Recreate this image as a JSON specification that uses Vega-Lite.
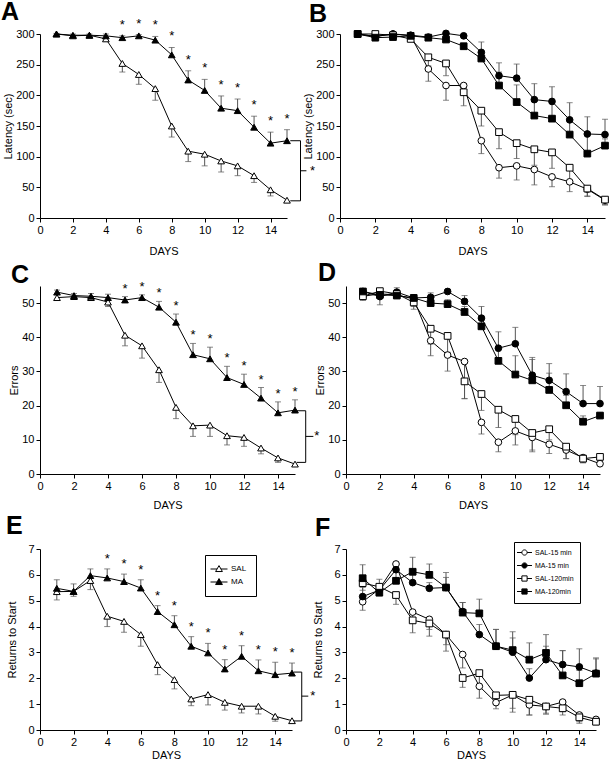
{
  "$schema": "https://vega.github.io/schema/vega-lite/v6.json",
  "padding": {"left": 0, "top": 0, "right": 0, "bottom": 0},
  "datasets": {
    "letters": [{"p":"A"},{"p":"B"},{"p":"C"},{"p":"D"},{"p":"E"},{"p":"F"}],
    "lat": [
      {"day":1,"group":"SAL","mean":300,"bar":299,"star":0},{"day":2,"group":"SAL","mean":297,"bar":295,"star":0},{"day":3,"group":"SAL","mean":298,"bar":296,"star":0},{"day":4,"group":"SAL","mean":292,"bar":290,"star":0},{"day":5,"group":"SAL","mean":252,"bar":238,"star":0},{"day":6,"group":"SAL","mean":234,"bar":218,"star":0},{"day":7,"group":"SAL","mean":211,"bar":192,"star":0},{"day":8,"group":"SAL","mean":150,"bar":132,"star":0},{"day":9,"group":"SAL","mean":109,"bar":92,"star":0},{"day":10,"group":"SAL","mean":104,"bar":85,"star":0},{"day":11,"group":"SAL","mean":93,"bar":75,"star":0},{"day":12,"group":"SAL","mean":85,"bar":69,"star":0},{"day":13,"group":"SAL","mean":69,"bar":58,"star":0},{"day":14,"group":"SAL","mean":46,"bar":36,"star":0},{"day":15,"group":"SAL","mean":29,"bar":26,"star":0},
      {"day":1,"group":"MA","mean":300,"bar":301,"star":0},{"day":2,"group":"MA","mean":298,"bar":300,"star":0},{"day":3,"group":"MA","mean":298,"bar":300,"star":0},{"day":4,"group":"MA","mean":297,"bar":300,"star":0},{"day":5,"group":"MA","mean":294,"bar":297,"star":1},{"day":6,"group":"MA","mean":297,"bar":299,"star":1},{"day":7,"group":"MA","mean":290,"bar":296,"star":1},{"day":8,"group":"MA","mean":266,"bar":278,"star":1},{"day":9,"group":"MA","mean":225,"bar":240,"star":1},{"day":10,"group":"MA","mean":208,"bar":226,"star":1},{"day":11,"group":"MA","mean":179,"bar":199,"star":1},{"day":12,"group":"MA","mean":175,"bar":194,"star":1},{"day":13,"group":"MA","mean":148,"bar":166,"star":1},{"day":14,"group":"MA","mean":122,"bar":140,"star":1},{"day":15,"group":"MA","mean":126,"bar":144,"star":1}
    ],
    "lat4": [
      {"day":1,"group":"SAL-15 min","mean":300,"bar":298},{"day":2,"group":"SAL-15 min","mean":296,"bar":290},{"day":3,"group":"SAL-15 min","mean":300,"bar":298},{"day":4,"group":"SAL-15 min","mean":297,"bar":295},{"day":5,"group":"SAL-15 min","mean":243,"bar":223},{"day":6,"group":"SAL-15 min","mean":216,"bar":192},{"day":7,"group":"SAL-15 min","mean":216,"bar":205},{"day":8,"group":"SAL-15 min","mean":126,"bar":105},{"day":9,"group":"SAL-15 min","mean":82,"bar":65},{"day":10,"group":"SAL-15 min","mean":85,"bar":62},{"day":11,"group":"SAL-15 min","mean":79,"bar":54},{"day":12,"group":"SAL-15 min","mean":67,"bar":51},{"day":13,"group":"SAL-15 min","mean":59,"bar":43},{"day":14,"group":"SAL-15 min","mean":47,"bar":35},{"day":15,"group":"SAL-15 min","mean":29,"bar":21},
      {"day":1,"group":"MA-15 min","mean":300,"bar":301},{"day":2,"group":"MA-15 min","mean":296,"bar":298},{"day":3,"group":"MA-15 min","mean":300,"bar":302},{"day":4,"group":"MA-15 min","mean":298,"bar":300},{"day":5,"group":"MA-15 min","mean":295,"bar":297},{"day":6,"group":"MA-15 min","mean":301,"bar":303},{"day":7,"group":"MA-15 min","mean":297,"bar":299},{"day":8,"group":"MA-15 min","mean":270,"bar":287},{"day":9,"group":"MA-15 min","mean":232,"bar":253},{"day":10,"group":"MA-15 min","mean":228,"bar":251},{"day":11,"group":"MA-15 min","mean":193,"bar":219},{"day":12,"group":"MA-15 min","mean":190,"bar":214},{"day":13,"group":"MA-15 min","mean":160,"bar":188},{"day":14,"group":"MA-15 min","mean":137,"bar":165},{"day":15,"group":"MA-15 min","mean":136,"bar":161},
      {"day":1,"group":"SAL-120min","mean":300,"bar":298},{"day":2,"group":"SAL-120min","mean":300,"bar":292},{"day":3,"group":"SAL-120min","mean":298,"bar":296},{"day":4,"group":"SAL-120min","mean":292,"bar":288},{"day":5,"group":"SAL-120min","mean":262,"bar":248},{"day":6,"group":"SAL-120min","mean":252,"bar":232},{"day":7,"group":"SAL-120min","mean":205,"bar":183},{"day":8,"group":"SAL-120min","mean":175,"bar":150},{"day":9,"group":"SAL-120min","mean":140,"bar":113},{"day":10,"group":"SAL-120min","mean":122,"bar":97},{"day":11,"group":"SAL-120min","mean":112,"bar":86},{"day":12,"group":"SAL-120min","mean":107,"bar":81},{"day":13,"group":"SAL-120min","mean":82,"bar":59},{"day":14,"group":"SAL-120min","mean":48,"bar":36},{"day":15,"group":"SAL-120min","mean":30,"bar":22},
      {"day":1,"group":"MA-120min","mean":300,"bar":302},{"day":2,"group":"MA-120min","mean":294,"bar":297},{"day":3,"group":"MA-120min","mean":295,"bar":298},{"day":4,"group":"MA-120min","mean":297,"bar":300},{"day":5,"group":"MA-120min","mean":294,"bar":297},{"day":6,"group":"MA-120min","mean":291,"bar":295},{"day":7,"group":"MA-120min","mean":280,"bar":285},{"day":8,"group":"MA-120min","mean":260,"bar":272},{"day":9,"group":"MA-120min","mean":216,"bar":238},{"day":10,"group":"MA-120min","mean":189,"bar":217},{"day":11,"group":"MA-120min","mean":167,"bar":190},{"day":12,"group":"MA-120min","mean":162,"bar":191},{"day":13,"group":"MA-120min","mean":136,"bar":158},{"day":14,"group":"MA-120min","mean":105,"bar":136},{"day":15,"group":"MA-120min","mean":118,"bar":129}
    ],
    "err": [
      {"day":1,"group":"SAL","mean":51.6,"bar":51.0,"star":0},{"day":2,"group":"SAL","mean":51.9,"bar":51.2,"star":0},{"day":3,"group":"SAL","mean":51.6,"bar":50.8,"star":0},{"day":4,"group":"SAL","mean":50.3,"bar":49.0,"star":0},{"day":5,"group":"SAL","mean":40.6,"bar":37.5,"star":0},{"day":6,"group":"SAL","mean":37.5,"bar":33.9,"star":0},{"day":7,"group":"SAL","mean":30.5,"bar":26.8,"star":0},{"day":8,"group":"SAL","mean":19.5,"bar":16.2,"star":0},{"day":9,"group":"SAL","mean":14.1,"bar":11.0,"star":0},{"day":10,"group":"SAL","mean":14.3,"bar":11.0,"star":0},{"day":11,"group":"SAL","mean":11.2,"bar":8.5,"star":0},{"day":12,"group":"SAL","mean":10.7,"bar":8.1,"star":0},{"day":13,"group":"SAL","mean":7.6,"bar":5.9,"star":0},{"day":14,"group":"SAL","mean":4.7,"bar":3.4,"star":0},{"day":15,"group":"SAL","mean":2.9,"bar":2.5,"star":0},
      {"day":1,"group":"MA","mean":53.2,"bar":53.8,"star":0},{"day":2,"group":"MA","mean":52.2,"bar":52.8,"star":0},{"day":3,"group":"MA","mean":52.0,"bar":52.8,"star":0},{"day":4,"group":"MA","mean":51.6,"bar":52.6,"star":0},{"day":5,"group":"MA","mean":50.9,"bar":51.9,"star":1},{"day":6,"group":"MA","mean":51.6,"bar":52.4,"star":1},{"day":7,"group":"MA","mean":48.8,"bar":50.5,"star":1},{"day":8,"group":"MA","mean":44.4,"bar":46.8,"star":1},{"day":9,"group":"MA","mean":34.9,"bar":38.2,"star":1},{"day":10,"group":"MA","mean":33.7,"bar":37.1,"star":1},{"day":11,"group":"MA","mean":28.2,"bar":31.5,"star":1},{"day":12,"group":"MA","mean":26.2,"bar":29.2,"star":1},{"day":13,"group":"MA","mean":22.2,"bar":25.3,"star":1},{"day":14,"group":"MA","mean":17.9,"bar":21.1,"star":1},{"day":15,"group":"MA","mean":18.7,"bar":21.7,"star":1}
    ],
    "err4": [
      {"day":1,"group":"SAL-15 min","mean":52.0,"bar":51.0},{"day":2,"group":"SAL-15 min","mean":52.7,"bar":49.5},{"day":3,"group":"SAL-15 min","mean":52.4,"bar":51.5},{"day":4,"group":"SAL-15 min","mean":51.2,"bar":49.0},{"day":5,"group":"SAL-15 min","mean":39.0,"bar":34.6},{"day":6,"group":"SAL-15 min","mean":34.8,"bar":30.1},{"day":7,"group":"SAL-15 min","mean":32.9,"bar":22.0},{"day":8,"group":"SAL-15 min","mean":15.1,"bar":11.7},{"day":9,"group":"SAL-15 min","mean":9.3,"bar":6.5},{"day":10,"group":"SAL-15 min","mean":12.6,"bar":8.5},{"day":11,"group":"SAL-15 min","mean":10.7,"bar":6.5},{"day":12,"group":"SAL-15 min","mean":8.7,"bar":6.0},{"day":13,"group":"SAL-15 min","mean":7.0,"bar":4.5},{"day":14,"group":"SAL-15 min","mean":4.8,"bar":3.3},{"day":15,"group":"SAL-15 min","mean":3.0,"bar":2.5},
      {"day":1,"group":"MA-15 min","mean":53.4,"bar":54.0},{"day":2,"group":"MA-15 min","mean":51.9,"bar":52.5},{"day":3,"group":"MA-15 min","mean":53.2,"bar":54.5},{"day":4,"group":"MA-15 min","mean":51.5,"bar":52.5},{"day":5,"group":"MA-15 min","mean":51.7,"bar":53.0},{"day":6,"group":"MA-15 min","mean":53.4,"bar":54.0},{"day":7,"group":"MA-15 min","mean":50.5,"bar":52.2},{"day":8,"group":"MA-15 min","mean":45.6,"bar":49.0},{"day":9,"group":"MA-15 min","mean":36.8,"bar":41.6},{"day":10,"group":"MA-15 min","mean":38.1,"bar":42.9},{"day":11,"group":"MA-15 min","mean":28.9,"bar":34.1},{"day":12,"group":"MA-15 min","mean":27.4,"bar":32.3},{"day":13,"group":"MA-15 min","mean":24.1,"bar":29.3},{"day":14,"group":"MA-15 min","mean":20.6,"bar":25.9},{"day":15,"group":"MA-15 min","mean":20.6,"bar":25.6},
      {"day":1,"group":"SAL-120min","mean":52.0,"bar":50.8},{"day":2,"group":"SAL-120min","mean":53.5,"bar":52.0},{"day":3,"group":"SAL-120min","mean":52.7,"bar":51.5},{"day":4,"group":"SAL-120min","mean":50.2,"bar":48.2},{"day":5,"group":"SAL-120min","mean":42.5,"bar":38.0},{"day":6,"group":"SAL-120min","mean":40.4,"bar":35.6},{"day":7,"group":"SAL-120min","mean":27.1,"bar":22.1},{"day":8,"group":"SAL-120min","mean":23.4,"bar":18.6},{"day":9,"group":"SAL-120min","mean":18.8,"bar":13.6},{"day":10,"group":"SAL-120min","mean":16.1,"bar":11.5},{"day":11,"group":"SAL-120min","mean":12.0,"bar":7.0},{"day":12,"group":"SAL-120min","mean":13.1,"bar":10.0},{"day":13,"group":"SAL-120min","mean":8.0,"bar":4.5},{"day":14,"group":"SAL-120min","mean":4.5,"bar":3.3},{"day":15,"group":"SAL-120min","mean":5.0,"bar":4.0},
      {"day":1,"group":"MA-120min","mean":53.4,"bar":54.0},{"day":2,"group":"MA-120min","mean":52.4,"bar":53.0},{"day":3,"group":"MA-120min","mean":52.2,"bar":53.0},{"day":4,"group":"MA-120min","mean":51.5,"bar":52.3},{"day":5,"group":"MA-120min","mean":50.0,"bar":51.5},{"day":6,"group":"MA-120min","mean":49.7,"bar":51.0},{"day":7,"group":"MA-120min","mean":47.4,"bar":49.0},{"day":8,"group":"MA-120min","mean":43.2,"bar":45.0},{"day":9,"group":"MA-120min","mean":33.1,"bar":37.0},{"day":10,"group":"MA-120min","mean":29.1,"bar":34.6},{"day":11,"group":"MA-120min","mean":27.4,"bar":33.5},{"day":12,"group":"MA-120min","mean":24.6,"bar":29.5},{"day":13,"group":"MA-120min","mean":20.1,"bar":23.0},{"day":14,"group":"MA-120min","mean":15.3,"bar":17.0},{"day":15,"group":"MA-120min","mean":17.1,"bar":18.0}
    ],
    "ret": [
      {"day":1,"group":"SAL","mean":5.35,"bar":5.03,"star":0},{"day":2,"group":"SAL","mean":5.36,"bar":5.17,"star":0},{"day":3,"group":"SAL","mean":5.78,"bar":5.43,"star":0},{"day":4,"group":"SAL","mean":4.40,"bar":4.0,"star":0},{"day":5,"group":"SAL","mean":4.20,"bar":3.78,"star":0},{"day":6,"group":"SAL","mean":3.69,"bar":3.24,"star":0},{"day":7,"group":"SAL","mean":2.53,"bar":2.14,"star":0},{"day":8,"group":"SAL","mean":1.95,"bar":1.59,"star":0},{"day":9,"group":"SAL","mean":1.20,"bar":0.94,"star":0},{"day":10,"group":"SAL","mean":1.37,"bar":0.97,"star":0},{"day":11,"group":"SAL","mean":1.07,"bar":0.77,"star":0},{"day":12,"group":"SAL","mean":0.92,"bar":0.66,"star":0},{"day":13,"group":"SAL","mean":0.92,"bar":0.62,"star":0},{"day":14,"group":"SAL","mean":0.53,"bar":0.34,"star":0},{"day":15,"group":"SAL","mean":0.36,"bar":0.28,"star":0},
      {"day":1,"group":"MA","mean":5.48,"bar":5.81,"star":0},{"day":2,"group":"MA","mean":5.36,"bar":5.65,"star":0},{"day":3,"group":"MA","mean":5.97,"bar":6.23,"star":0},{"day":4,"group":"MA","mean":5.88,"bar":6.23,"star":1},{"day":5,"group":"MA","mean":5.74,"bar":6.03,"star":1},{"day":6,"group":"MA","mean":5.49,"bar":5.81,"star":1},{"day":7,"group":"MA","mean":4.58,"bar":4.81,"star":1},{"day":8,"group":"MA","mean":4.07,"bar":4.42,"star":1},{"day":9,"group":"MA","mean":3.24,"bar":3.61,"star":1},{"day":10,"group":"MA","mean":2.98,"bar":3.35,"star":1},{"day":11,"group":"MA","mean":2.36,"bar":2.72,"star":1},{"day":12,"group":"MA","mean":2.85,"bar":3.26,"star":1},{"day":13,"group":"MA","mean":2.29,"bar":2.71,"star":1},{"day":14,"group":"MA","mean":2.14,"bar":2.62,"star":1},{"day":15,"group":"MA","mean":2.20,"bar":2.59,"star":1}
    ],
    "ret4": [
      {"day":1,"group":"SAL-15 min","mean":4.96,"bar":4.63},{"day":2,"group":"SAL-15 min","mean":5.45,"bar":5.2},{"day":3,"group":"SAL-15 min","mean":6.42,"bar":6.3},{"day":4,"group":"SAL-15 min","mean":4.56,"bar":4.15},{"day":5,"group":"SAL-15 min","mean":4.28,"bar":3.89},{"day":6,"group":"SAL-15 min","mean":3.69,"bar":3.3},{"day":7,"group":"SAL-15 min","mean":2.92,"bar":2.40},{"day":8,"group":"SAL-15 min","mean":1.69,"bar":1.23},{"day":9,"group":"SAL-15 min","mean":1.06,"bar":0.82},{"day":10,"group":"SAL-15 min","mean":1.36,"bar":0.84},{"day":11,"group":"SAL-15 min","mean":0.97,"bar":0.58},{"day":12,"group":"SAL-15 min","mean":0.91,"bar":0.65},{"day":13,"group":"SAL-15 min","mean":1.08,"bar":0.71},{"day":14,"group":"SAL-15 min","mean":0.58,"bar":0.32},{"day":15,"group":"SAL-15 min","mean":0.41,"bar":0.3},
      {"day":1,"group":"MA-15 min","mean":5.16,"bar":5.51},{"day":2,"group":"MA-15 min","mean":5.41,"bar":5.6},{"day":3,"group":"MA-15 min","mean":6.2,"bar":6.48},{"day":4,"group":"MA-15 min","mean":5.70,"bar":6.0},{"day":5,"group":"MA-15 min","mean":5.48,"bar":5.7},{"day":6,"group":"MA-15 min","mean":5.51,"bar":5.9},{"day":7,"group":"MA-15 min","mean":4.58,"bar":4.93},{"day":8,"group":"MA-15 min","mean":3.69,"bar":4.08},{"day":9,"group":"MA-15 min","mean":3.24,"bar":3.89},{"day":10,"group":"MA-15 min","mean":3.01,"bar":3.56},{"day":11,"group":"MA-15 min","mean":2.01,"bar":2.37},{"day":12,"group":"MA-15 min","mean":2.72,"bar":3.24},{"day":13,"group":"MA-15 min","mean":2.53,"bar":3.07},{"day":14,"group":"MA-15 min","mean":2.44,"bar":3.14},{"day":15,"group":"MA-15 min","mean":2.20,"bar":2.79},
      {"day":1,"group":"SAL-120min","mean":5.68,"bar":5.4},{"day":2,"group":"SAL-120min","mean":5.54,"bar":5.3},{"day":3,"group":"SAL-120min","mean":5.22,"bar":4.86},{"day":4,"group":"SAL-120min","mean":4.24,"bar":3.76},{"day":5,"group":"SAL-120min","mean":4.12,"bar":3.63},{"day":6,"group":"SAL-120min","mean":3.69,"bar":3.05},{"day":7,"group":"SAL-120min","mean":2.01,"bar":1.65},{"day":8,"group":"SAL-120min","mean":2.20,"bar":1.69},{"day":9,"group":"SAL-120min","mean":1.34,"bar":1.1},{"day":10,"group":"SAL-120min","mean":1.36,"bar":0.69},{"day":11,"group":"SAL-120min","mean":1.17,"bar":0.58},{"day":12,"group":"SAL-120min","mean":0.91,"bar":0.61},{"day":13,"group":"SAL-120min","mean":0.84,"bar":0.58},{"day":14,"group":"SAL-120min","mean":0.49,"bar":0.26},{"day":15,"group":"SAL-120min","mean":0.32,"bar":0.2},
      {"day":1,"group":"MA-120min","mean":5.87,"bar":6.39},{"day":2,"group":"MA-120min","mean":5.31,"bar":5.83},{"day":3,"group":"MA-120min","mean":5.77,"bar":6.22},{"day":4,"group":"MA-120min","mean":6.12,"bar":6.68},{"day":5,"group":"MA-120min","mean":6.0,"bar":6.42},{"day":6,"group":"MA-120min","mean":5.51,"bar":6.09},{"day":7,"group":"MA-120min","mean":4.54,"bar":4.93},{"day":8,"group":"MA-120min","mean":4.51,"bar":5.06},{"day":9,"group":"MA-120min","mean":3.24,"bar":3.89},{"day":10,"group":"MA-120min","mean":3.09,"bar":3.80},{"day":11,"group":"MA-120min","mean":2.72,"bar":3.37},{"day":12,"group":"MA-120min","mean":2.98,"bar":3.69},{"day":13,"group":"MA-120min","mean":2.11,"bar":3.07},{"day":14,"group":"MA-120min","mean":1.81,"bar":2.3},{"day":15,"group":"MA-120min","mean":2.18,"bar":2.75}
    ],
    "brA": [{"top":126,"bottom":28,"mid":77}],
    "brC": [{"top":18.5,"bottom":3.4,"mid":11}],
    "brE": [{"top":2.24,"bottom":0.35,"mid":1.31}]
  },
  "resolve": {"scale": {"fill": "independent", "shape": "independent", "stroke": "independent"}, "legend": {"fill": "independent", "shape": "independent", "stroke": "independent"}},
  "vconcat": [
    {
      "bounds": "flush",
      "spacing": 53,
      "resolve": {"scale": {"fill": "independent", "shape": "independent"}, "legend": {"fill": "independent", "shape": "independent"}},
      "hconcat": [
        {
          "width": 247, "height": 184,
          "layer": [
            {"data": {"name": "lat"}, "mark": {"type": "rule", "color": "#555"},
             "encoding": {
               "x": {"field": "day", "type": "quantitative", "scale": {"domain": [0, 15], "nice": false, "zero": false}, "axis": {"values": [0,2,4,6,8,10,12,14], "tickCount": 30, "format": "d", "title": "DAYS", "titlePadding": 10, "labelFlush": false, "labelOverlap": false}},
               "y": {"field": "mean", "type": "quantitative", "scale": {"domain": [0, 300], "nice": false}, "axis": {"values": [0,50,100,150,200,250,300], "tickCount": 30, "format": "d", "title": "Latency (sec)", "labelOverlap": false}},
               "y2": {"field": "bar"}}},
            {"data": {"name": "lat"}, "mark": {"type": "tick", "orient": "horizontal", "size": 6, "thickness": 1, "color": "#555"},
             "encoding": {"x": {"field": "day", "type": "quantitative"}, "y": {"field": "bar", "type": "quantitative"}}},
            {"data": {"name": "lat"}, "mark": {"type": "line", "color": "black", "strokeWidth": 1},
             "encoding": {"x": {"field": "day", "type": "quantitative"}, "y": {"field": "mean", "type": "quantitative"}, "detail": {"field": "group"}}},
            {"data": {"name": "lat"}, "mark": {"type": "point", "shape": "triangle-up", "filled": true, "stroke": "black", "strokeWidth": 1, "size": 45, "opacity": 1},
             "encoding": {"x": {"field": "day", "type": "quantitative"}, "y": {"field": "mean", "type": "quantitative"},
               "fill": {"field": "group", "type": "nominal", "scale": {"domain": ["SAL", "MA"], "range": ["white", "black"]}, "legend": null}}},
            {"data": {"name": "lat"}, "transform": [{"filter": "datum.star == 1"}], "mark": {"type": "text", "text": "*", "fontSize": 13, "baseline": "middle", "dy": -11, "color": "black"},
             "encoding": {"x": {"field": "day", "type": "quantitative"}, "y": {"field": "bar", "type": "quantitative"}}},
            {"data": {"name": "brA"}, "mark": {"type": "rule", "color": "black"}, "encoding": {"x": {"datum": 15.2}, "x2": {"datum": 15.82}, "y": {"field": "top", "type": "quantitative"}}},
            {"data": {"name": "brA"}, "mark": {"type": "rule", "color": "black"}, "encoding": {"x": {"datum": 15.2}, "x2": {"datum": 15.82}, "y": {"field": "bottom", "type": "quantitative"}}},
            {"data": {"name": "brA"}, "mark": {"type": "rule", "color": "black"}, "encoding": {"x": {"datum": 15.82}, "y": {"field": "top", "type": "quantitative"}, "y2": {"field": "bottom"}}},
            {"data": {"name": "brA"}, "mark": {"type": "rule", "color": "black"}, "encoding": {"x": {"datum": 15.82}, "x2": {"datum": 16.18}, "y": {"field": "mid", "type": "quantitative"}}},
            {"data": {"name": "brA"}, "mark": {"type": "text", "text": "*", "fontSize": 13, "baseline": "middle", "color": "black"}, "encoding": {"x": {"datum": 16.55}, "y": {"field": "mid", "type": "quantitative"}}},
            {"data": {"name": "letters"}, "transform": [{"filter": "datum.p == 'A'"}], "mark": {"type": "text", "fontSize": 25, "fontWeight": "bold", "align": "left", "baseline": "alphabetic", "color": "black"},
             "encoding": {"x": {"datum": -2.37}, "y": {"datum": 322.8}, "text": {"field": "p"}}}
          ]
        },
        {
          "width": 265, "height": 184,
          "layer": [
            {"data": {"name": "lat4"}, "mark": {"type": "rule", "color": "#555"},
             "encoding": {
               "x": {"field": "day", "type": "quantitative", "scale": {"domain": [0, 15], "nice": false, "zero": false}, "axis": {"values": [0,2,4,6,8,10,12,14], "tickCount": 30, "format": "d", "title": "DAYS", "titlePadding": 10, "labelFlush": false, "labelOverlap": false}},
               "y": {"field": "mean", "type": "quantitative", "scale": {"domain": [0, 300], "nice": false}, "axis": {"values": [0,50,100,150,200,250,300], "tickCount": 30, "format": "d", "title": "Latency (sec)", "labelOverlap": false}},
               "y2": {"field": "bar"}}},
            {"data": {"name": "lat4"}, "mark": {"type": "tick", "orient": "horizontal", "size": 6, "thickness": 1, "color": "#555"},
             "encoding": {"x": {"field": "day", "type": "quantitative"}, "y": {"field": "bar", "type": "quantitative"}}},
            {"data": {"name": "lat4"}, "mark": {"type": "line", "color": "black", "strokeWidth": 1},
             "encoding": {"x": {"field": "day", "type": "quantitative"}, "y": {"field": "mean", "type": "quantitative"}, "detail": {"field": "group"}}},
            {"data": {"name": "lat4"}, "mark": {"type": "point", "filled": true, "stroke": "black", "strokeWidth": 1, "size": 45, "opacity": 1},
             "encoding": {"x": {"field": "day", "type": "quantitative"}, "y": {"field": "mean", "type": "quantitative"},
               "shape": {"field": "group", "type": "nominal", "scale": {"domain": ["SAL-15 min", "MA-15 min", "SAL-120min", "MA-120min"], "range": ["circle", "circle", "square", "square"]}, "legend": null},
               "fill": {"field": "group", "type": "nominal", "scale": {"domain": ["SAL-15 min", "MA-15 min", "SAL-120min", "MA-120min"], "range": ["white", "black", "white", "black"]}, "legend": null}}},
            {"data": {"name": "letters"}, "transform": [{"filter": "datum.p == 'B'"}], "mark": {"type": "text", "fontSize": 25, "fontWeight": "bold", "align": "left", "baseline": "alphabetic", "color": "black"},
             "encoding": {"x": {"datum": -1.75}, "y": {"datum": 319.6}, "text": {"field": "p"}}}
          ]
        }
      ]
    },
    {
      "bounds": "flush",
      "spacing": 51,
      "resolve": {"scale": {"fill": "independent", "shape": "independent"}, "legend": {"fill": "independent", "shape": "independent"}},
      "hconcat": [
        {
          "width": 255, "height": 188,
          "layer": [
            {"data": {"name": "err"}, "mark": {"type": "rule", "color": "#555"},
             "encoding": {
               "x": {"field": "day", "type": "quantitative", "scale": {"domain": [0, 15], "nice": false, "zero": false}, "axis": {"values": [0,2,4,6,8,10,12,14], "tickCount": 30, "format": "d", "title": "DAYS", "titlePadding": 8, "labelFlush": false, "labelOverlap": false}},
               "y": {"field": "mean", "type": "quantitative", "scale": {"domain": [0, 55], "nice": false}, "axis": {"values": [0,10,20,30,40,50], "tickCount": 30, "format": "d", "title": "Errors", "labelOverlap": false}},
               "y2": {"field": "bar"}}},
            {"data": {"name": "err"}, "mark": {"type": "tick", "orient": "horizontal", "size": 6, "thickness": 1, "color": "#555"},
             "encoding": {"x": {"field": "day", "type": "quantitative"}, "y": {"field": "bar", "type": "quantitative"}}},
            {"data": {"name": "err"}, "mark": {"type": "line", "color": "black", "strokeWidth": 1},
             "encoding": {"x": {"field": "day", "type": "quantitative"}, "y": {"field": "mean", "type": "quantitative"}, "detail": {"field": "group"}}},
            {"data": {"name": "err"}, "mark": {"type": "point", "shape": "triangle-up", "filled": true, "stroke": "black", "strokeWidth": 1, "size": 45, "opacity": 1},
             "encoding": {"x": {"field": "day", "type": "quantitative"}, "y": {"field": "mean", "type": "quantitative"},
               "fill": {"field": "group", "type": "nominal", "scale": {"domain": ["SAL", "MA"], "range": ["white", "black"]}, "legend": null}}},
            {"data": {"name": "err"}, "transform": [{"filter": "datum.star == 1"}], "mark": {"type": "text", "text": "*", "fontSize": 13, "baseline": "middle", "dy": -8, "color": "black"},
             "encoding": {"x": {"field": "day", "type": "quantitative"}, "y": {"field": "bar", "type": "quantitative"}}},
            {"data": {"name": "brC"}, "mark": {"type": "rule", "color": "black"}, "encoding": {"x": {"datum": 15.1}, "x2": {"datum": 15.63}, "y": {"field": "top", "type": "quantitative"}}},
            {"data": {"name": "brC"}, "mark": {"type": "rule", "color": "black"}, "encoding": {"x": {"datum": 15.1}, "x2": {"datum": 15.63}, "y": {"field": "bottom", "type": "quantitative"}}},
            {"data": {"name": "brC"}, "mark": {"type": "rule", "color": "black"}, "encoding": {"x": {"datum": 15.63}, "y": {"field": "top", "type": "quantitative"}, "y2": {"field": "bottom"}}},
            {"data": {"name": "brC"}, "mark": {"type": "rule", "color": "black"}, "encoding": {"x": {"datum": 15.63}, "x2": {"datum": 16.08}, "y": {"field": "mid", "type": "quantitative"}}},
            {"data": {"name": "brC"}, "mark": {"type": "text", "text": "*", "fontSize": 13, "baseline": "middle", "color": "black"}, "encoding": {"x": {"datum": 16.28}, "y": {"field": "mid", "type": "quantitative"}}},
            {"data": {"name": "letters"}, "transform": [{"filter": "datum.p == 'C'"}], "mark": {"type": "text", "fontSize": 25, "fontWeight": "bold", "align": "left", "baseline": "alphabetic", "color": "black"},
             "encoding": {"x": {"datum": -1.7}, "y": {"datum": 55.9}, "text": {"field": "p"}}}
          ]
        },
        {
          "width": 254, "height": 188,
          "layer": [
            {"data": {"name": "err4"}, "mark": {"type": "rule", "color": "#555"},
             "encoding": {
               "x": {"field": "day", "type": "quantitative", "scale": {"domain": [0, 15], "nice": false, "zero": false}, "axis": {"values": [0,2,4,6,8,10,12,14], "tickCount": 30, "format": "d", "title": "DAYS", "titlePadding": 8, "labelFlush": false, "labelOverlap": false}},
               "y": {"field": "mean", "type": "quantitative", "scale": {"domain": [0, 55], "nice": false}, "axis": {"values": [0,10,20,30,40,50], "tickCount": 30, "format": "d", "title": "Errors", "labelOverlap": false}},
               "y2": {"field": "bar"}}},
            {"data": {"name": "err4"}, "mark": {"type": "tick", "orient": "horizontal", "size": 6, "thickness": 1, "color": "#555"},
             "encoding": {"x": {"field": "day", "type": "quantitative"}, "y": {"field": "bar", "type": "quantitative"}}},
            {"data": {"name": "err4"}, "mark": {"type": "line", "color": "black", "strokeWidth": 1},
             "encoding": {"x": {"field": "day", "type": "quantitative"}, "y": {"field": "mean", "type": "quantitative"}, "detail": {"field": "group"}}},
            {"data": {"name": "err4"}, "mark": {"type": "point", "filled": true, "stroke": "black", "strokeWidth": 1, "size": 45, "opacity": 1},
             "encoding": {"x": {"field": "day", "type": "quantitative"}, "y": {"field": "mean", "type": "quantitative"},
               "shape": {"field": "group", "type": "nominal", "scale": {"domain": ["SAL-15 min", "MA-15 min", "SAL-120min", "MA-120min"], "range": ["circle", "circle", "square", "square"]}, "legend": null},
               "fill": {"field": "group", "type": "nominal", "scale": {"domain": ["SAL-15 min", "MA-15 min", "SAL-120min", "MA-120min"], "range": ["white", "black", "white", "black"]}, "legend": null}}},
            {"data": {"name": "letters"}, "transform": [{"filter": "datum.p == 'D'"}], "mark": {"type": "text", "fontSize": 25, "fontWeight": "bold", "align": "left", "baseline": "alphabetic", "color": "black"},
             "encoding": {"x": {"datum": -1.65}, "y": {"datum": 56.5}, "text": {"field": "p"}}}
          ]
        }
      ]
    },
    {
      "bounds": "flush",
      "spacing": 54,
      "resolve": {"scale": {"fill": "independent", "shape": "independent", "stroke": "independent"}, "legend": {"fill": "independent", "shape": "independent", "stroke": "independent"}},
      "hconcat": [
        {
          "width": 252, "height": 181,
          "layer": [
            {"data": {"name": "ret"}, "mark": {"type": "rule", "color": "#555"},
             "encoding": {
               "x": {"field": "day", "type": "quantitative", "scale": {"domain": [0, 15], "nice": false, "zero": false}, "axis": {"values": [0,2,4,6,8,10,12,14], "tickCount": 30, "format": "d", "title": "DAYS", "titlePadding": 2, "labelFlush": false, "labelOverlap": false}},
               "y": {"field": "mean", "type": "quantitative", "scale": {"domain": [0, 7], "nice": false}, "axis": {"values": [0,1,2,3,4,5,6,7], "tickCount": 30, "format": "d", "title": "Returns to Start", "titlePadding": 10, "labelOverlap": false}},
               "y2": {"field": "bar"}}},
            {"data": {"name": "ret"}, "mark": {"type": "tick", "orient": "horizontal", "size": 6, "thickness": 1, "color": "#555"},
             "encoding": {"x": {"field": "day", "type": "quantitative"}, "y": {"field": "bar", "type": "quantitative"}}},
            {"data": {"name": "ret"}, "mark": {"type": "line", "color": "black", "strokeWidth": 1},
             "encoding": {"x": {"field": "day", "type": "quantitative"}, "y": {"field": "mean", "type": "quantitative"}, "detail": {"field": "group"}}},
            {"data": {"name": "ret"}, "mark": {"type": "point", "shape": "triangle-up", "filled": true, "stroke": "black", "strokeWidth": 1, "size": 45, "opacity": 1},
             "encoding": {"x": {"field": "day", "type": "quantitative"}, "y": {"field": "mean", "type": "quantitative"},
               "fill": {"field": "group", "type": "nominal", "scale": {"domain": ["SAL", "MA"], "range": ["white", "black"]},
                 "legend": {"orient": "none", "legendX": 165, "legendY": 6, "title": null, "symbolType": "M-2,0H-0.46M0.46,0H2M0,-0.8L0.8,0.6L-0.8,0.6Z", "symbolSize": 72, "symbolStrokeColor": "black", "symbolStrokeWidth": 1, "symbolOpacity": 1, "labelFontSize": 8, "labelOffset": 7, "strokeColor": "black", "fillColor": "white", "padding": 9, "rowPadding": 2, "cornerRadius": 0}}}},
            {"data": {"name": "ret"}, "transform": [{"filter": "datum.star == 1"}], "mark": {"type": "text", "text": "*", "fontSize": 13, "baseline": "middle", "dy": -10, "color": "black"},
             "encoding": {"x": {"field": "day", "type": "quantitative"}, "y": {"field": "bar", "type": "quantitative"}}},
            {"data": {"name": "brE"}, "mark": {"type": "rule", "color": "black"}, "encoding": {"x": {"datum": 15.1}, "x2": {"datum": 15.58}, "y": {"field": "top", "type": "quantitative"}}},
            {"data": {"name": "brE"}, "mark": {"type": "rule", "color": "black"}, "encoding": {"x": {"datum": 15.1}, "x2": {"datum": 15.58}, "y": {"field": "bottom", "type": "quantitative"}}},
            {"data": {"name": "brE"}, "mark": {"type": "rule", "color": "black"}, "encoding": {"x": {"datum": 15.58}, "y": {"field": "top", "type": "quantitative"}, "y2": {"field": "bottom"}}},
            {"data": {"name": "brE"}, "mark": {"type": "rule", "color": "black"}, "encoding": {"x": {"datum": 15.58}, "x2": {"datum": 15.97}, "y": {"field": "mid", "type": "quantitative"}}},
            {"data": {"name": "brE"}, "mark": {"type": "text", "text": "*", "fontSize": 13, "baseline": "middle", "color": "black"}, "encoding": {"x": {"datum": 16.23}, "y": {"field": "mid", "type": "quantitative"}}},
            {"data": {"name": "letters"}, "transform": [{"filter": "datum.p == 'E'"}], "mark": {"type": "text", "fontSize": 25, "fontWeight": "bold", "align": "left", "baseline": "alphabetic", "color": "black"},
             "encoding": {"x": {"datum": -2.02}, "y": {"datum": 7.58}, "text": {"field": "p"}}}
          ]
        },
        {
          "width": 250, "height": 181,
          "resolve": {"scale": {"shape": "independent", "fill": "independent", "stroke": "independent"}},
          "layer": [
            {"data": {"name": "ret4"}, "mark": {"type": "rule", "color": "#555"},
             "encoding": {
               "x": {"field": "day", "type": "quantitative", "scale": {"domain": [0, 15], "nice": false, "zero": false}, "axis": {"values": [0,2,4,6,8,10,12,14], "tickCount": 30, "format": "d", "title": "DAYS", "titlePadding": 2, "labelFlush": false, "labelOverlap": false}},
               "y": {"field": "mean", "type": "quantitative", "scale": {"domain": [0, 7], "nice": false}, "axis": {"values": [0,1,2,3,4,5,6,7], "tickCount": 30, "format": "d", "title": "Returns to Start", "titlePadding": 10, "labelOverlap": false}},
               "y2": {"field": "bar"}}},
            {"data": {"name": "ret4"}, "mark": {"type": "tick", "orient": "horizontal", "size": 6, "thickness": 1, "color": "#555"},
             "encoding": {"x": {"field": "day", "type": "quantitative"}, "y": {"field": "bar", "type": "quantitative"}}},
            {"data": {"name": "ret4"}, "mark": {"type": "line", "color": "black", "strokeWidth": 1},
             "encoding": {"x": {"field": "day", "type": "quantitative"}, "y": {"field": "mean", "type": "quantitative"}, "detail": {"field": "group"}}},
            {"data": {"name": "ret4"}, "mark": {"type": "point", "filled": true, "stroke": "black", "strokeWidth": 1, "size": 45, "opacity": 1},
             "encoding": {"x": {"field": "day", "type": "quantitative"}, "y": {"field": "mean", "type": "quantitative"},
               "shape": {"field": "group", "type": "nominal", "scale": {"domain": ["SAL-15 min", "MA-15 min", "SAL-120min", "MA-120min"], "range": ["circle", "circle", "square", "square"]}, "legend": null},
               "fill": {"field": "group", "type": "nominal", "scale": {"domain": ["SAL-15 min", "MA-15 min", "SAL-120min", "MA-120min"], "range": ["white", "black", "white", "black"]}, "legend": null}}},
            {"data": {"name": "ret4"}, "transform": [{"filter": "datum.day == 1"}],
             "mark": {"type": "point", "filled": true, "opacity": 0, "size": 45},
             "encoding": {"x": {"field": "day", "type": "quantitative"}, "y": {"field": "mean", "type": "quantitative"},
               "shape": {"field": "group", "type": "nominal", "scale": {"domain": ["SAL-15 min", "MA-15 min", "SAL-120min", "MA-120min"], "range": ["M-2,0H-0.7M0.7,0H2M0.7,0A0.7,0.7,0,1,1,-0.7,0A0.7,0.7,0,1,1,0.7,0Z", "M-2,0H-0.7M0.7,0H2M0.7,0A0.7,0.7,0,1,1,-0.7,0A0.7,0.7,0,1,1,0.7,0Z", "M-2,0H-0.7M0.7,0H2M-0.7,-0.7H0.7V0.7H-0.7Z", "M-2,0H-0.7M0.7,0H2M-0.7,-0.7H0.7V0.7H-0.7Z"]},
                 "legend": {"orient": "none", "legendX": 168, "legendY": -7, "title": null, "symbolSize": 56, "symbolStrokeWidth": 1, "symbolOpacity": 1, "labelFontSize": 7, "labelOffset": 6, "strokeColor": "black", "fillColor": "white", "padding": 6, "rowPadding": 2, "cornerRadius": 0}},
               "fill": {"field": "group", "type": "nominal", "scale": {"domain": ["SAL-15 min", "MA-15 min", "SAL-120min", "MA-120min"], "range": ["white", "black", "white", "black"]},
                 "legend": {"orient": "none", "legendX": 168, "legendY": -7, "title": null, "symbolSize": 56, "symbolStrokeWidth": 1, "symbolOpacity": 1, "labelFontSize": 7, "labelOffset": 6, "strokeColor": "black", "fillColor": "white", "padding": 6, "rowPadding": 2, "cornerRadius": 0}},
               "stroke": {"field": "group", "type": "nominal", "scale": {"domain": ["SAL-15 min", "MA-15 min", "SAL-120min", "MA-120min"], "range": ["black", "black", "black", "black"]},
                 "legend": {"orient": "none", "legendX": 168, "legendY": -7, "title": null, "symbolSize": 56, "symbolStrokeWidth": 1, "symbolOpacity": 1, "labelFontSize": 7, "labelOffset": 6, "strokeColor": "black", "fillColor": "white", "padding": 6, "rowPadding": 2, "cornerRadius": 0}}}},
            {"data": {"name": "letters"}, "transform": [{"filter": "datum.p == 'F'"}], "mark": {"type": "text", "fontSize": 25, "fontWeight": "bold", "align": "left", "baseline": "alphabetic", "color": "black"},
             "encoding": {"x": {"datum": -1.86}, "y": {"datum": 7.5}, "text": {"field": "p"}}}
          ]
        }
      ]
    }
  ],
  "spacing": 4,
  "config": {
    "view": {"stroke": null},
    "font": "Liberation Sans",
    "axis": {"domainColor": "black", "tickColor": "black", "labelColor": "black", "titleColor": "black", "grid": false, "labelFontSize": 11, "titleFontSize": 11, "titleFontWeight": "normal", "tickSize": 4, "labelPadding": 2, "titlePadding": 2, "labelFont": "Liberation Sans", "titleFont": "Liberation Sans", "labelOverlap": false},
    "legend": {"labelFont": "Liberation Sans", "labelColor": "black"}
  }
}
